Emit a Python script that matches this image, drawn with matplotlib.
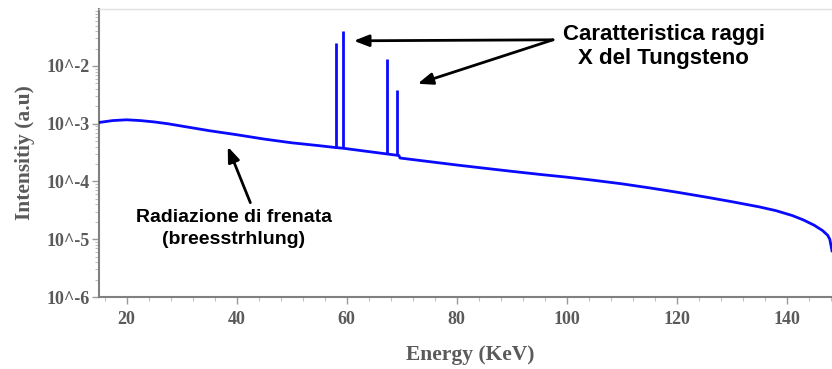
import matplotlib
matplotlib.use("Agg")
import matplotlib.pyplot as plt
from matplotlib.ticker import FixedLocator, MultipleLocator, LogLocator, NullFormatter

# Bremsstrahlung continuum (keV, a.u.)
energy = [15.0, 17.5, 20.0, 22.5, 25.0, 27.5, 30.0, 35.0, 40.0, 45.0,
          50.0, 55.0, 58.0, 59.3, 63.0, 67.3, 69.2, 69.5, 69.7, 75.0,
          80.0, 85.0, 90.0, 95.0, 100.0, 105.0, 110.0, 115.0, 120.0, 125.0,
          130.0, 135.0, 138.0, 141.0, 143.0, 145.0, 146.5, 147.4, 147.8, 148.2]
intensity = [1.052e-3, 1.135e-3, 1.17e-3, 1.135e-3, 1.076e-3, 1.0e-3, 9.12e-4, 7.59e-4, 6.46e-4, 5.43e-4,
             4.68e-4, 4.17e-4, 3.87e-4, 3.77e-4, 3.39e-4, 3.0e-4, 2.84e-4, 2.82e-4, 2.55e-4, 2.21e-4,
             1.93e-4, 1.70e-4, 1.50e-4, 1.33e-4, 1.189e-4, 1.047e-4, 9.12e-5, 7.76e-5, 6.53e-5, 5.43e-5,
             4.47e-5, 3.63e-5, 3.13e-5, 2.57e-5, 2.16e-5, 1.74e-5, 1.41e-5, 1.175e-5, 1.0e-5, 6.3e-6]

# Tungsten characteristic lines (Ka2, Ka1, Kb1, Kb2)
line_energy = [58.0, 59.3, 67.3, 69.2]
line_base = [3.87e-4, 3.77e-4, 3.0e-4, 2.84e-4]
line_peak = [0.0249, 0.041, 0.0132, 0.00377]

ytick_vals = [1e-6, 1e-5, 1e-4, 1e-3, 1e-2]
ytick_labels = ["10^-6", "10^-5", "10^-4", "10^-3", "10^-2"]
xtick_vals = [20, 40, 60, 80, 100, 120, 140]

W, H = 832, 369
fig = plt.figure(figsize=(W / 100, H / 100), dpi=100)
ax = fig.add_axes([99 / W, 1 - 297 / H, (W - 99) / W, (297 - 9) / H])

blue = "#0a0aff"
ax.plot(energy, intensity, color=blue, lw=2.0, solid_joinstyle="round", zorder=3)
ax.vlines(line_energy, line_base, line_peak, color=blue, lw=2.0, zorder=3)

ax.set_yscale("log")
ax.set_xlim(15, 148.2)
ax.set_ylim(1e-6, 0.097)

serif = {"family": "Liberation Serif", "weight": "bold"}
gray = "#5a5a5a"

ax.yaxis.set_major_locator(FixedLocator(ytick_vals))
ax.set_yticklabels(ytick_labels, fontdict=serif, fontsize=13, color=gray)
ax.yaxis.set_minor_locator(LogLocator(base=10, subs=range(2, 10), numticks=20))
ax.yaxis.set_minor_formatter(NullFormatter())

ax.xaxis.set_major_locator(FixedLocator(xtick_vals))
ax.set_xticklabels([str(v) for v in xtick_vals], fontdict=serif, fontsize=13, color=gray)
ax.xaxis.set_minor_locator(MultipleLocator(4))

ax.tick_params(axis="both", which="major", length=5, width=1, color="#9a9a9a")
ax.tick_params(axis="both", which="minor", length=3, width=0.8, color="#c0c0c0")
ax.tick_params(axis="y", which="major", pad=2)
ax.tick_params(axis="x", which="major", pad=5)

for side in ("left", "bottom"):
    ax.spines[side].set_color("#808080")
    ax.spines[side].set_linewidth(1.5)
ax.spines["top"].set_color("#e0e0e0")
ax.spines["top"].set_linewidth(1.0)
ax.spines["right"].set_visible(False)

ax.set_xlabel("Energy (KeV)", fontdict=serif, fontsize=15.5, color=gray, labelpad=12)
ax.xaxis.label.set_x(0.506)
ax.set_ylabel("Intensitiy (a.u)", fontdict=serif, fontsize=15.5, color=gray, labelpad=8)

sans = {"family": "Liberation Sans", "weight": "bold"}
arrow = dict(arrowstyle="-|>,head_length=0.9,head_width=0.35", color="black", lw=2.0,
             shrinkA=0, shrinkB=0)

ax.text(117.6, 0.0219, "Caratteristica raggi\nX del Tungsteno", fontdict=sans,
        fontsize=16, ha="center", va="center", linespacing=1.2)
ax.annotate("", xy=(61.3, 0.0273), xytext=(97.5, 0.0284), arrowprops=arrow)
ax.annotate("", xy=(72.9, 0.00492), xytext=(97.5, 0.0284), arrowprops=arrow)

ax.text(39.5, 1.52e-5, "Radiazione di frenata\n(breesstrhlung)", fontdict=sans,
        fontsize=14, ha="center", va="center", linespacing=1.35)
ax.annotate("", xy=(38.4, 4.0e-4), xytext=(42.5, 4.3e-5), arrowprops=arrow)

fig.savefig("out.png", dpi=100)
